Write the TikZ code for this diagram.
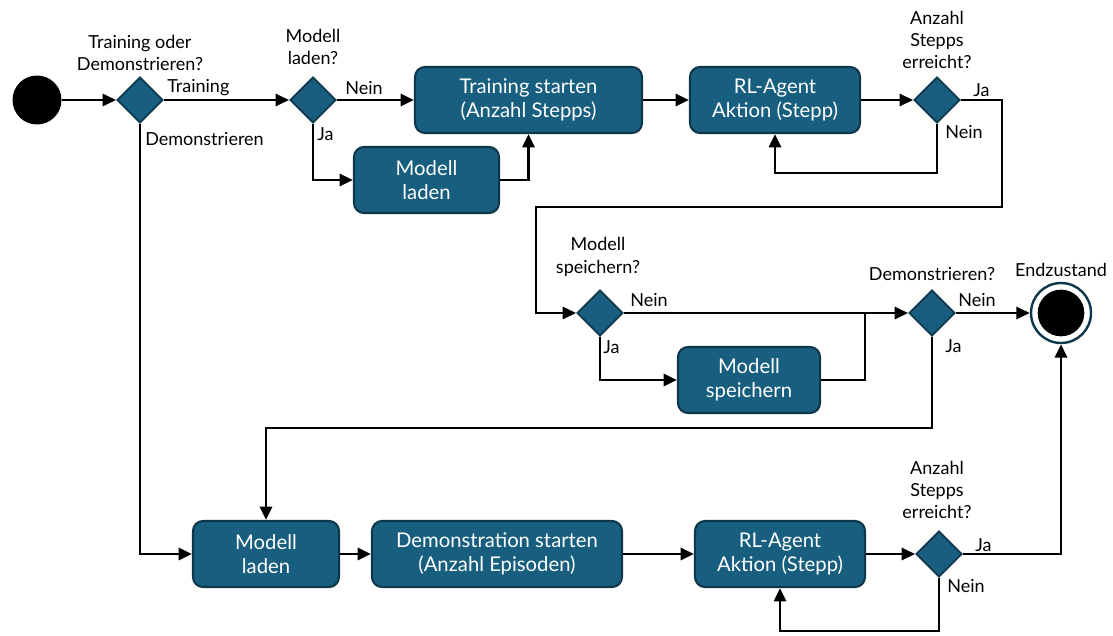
\documentclass[tikz,border=0pt]{standalone}
\usepackage{fontspec}
\setmainfont{Lato}
\usetikzlibrary{shapes.geometric,arrows.meta}
\definecolor{boxfill}{RGB}{24,94,127}
\definecolor{boxline}{RGB}{14,55,76}
\begin{document}
\begin{tikzpicture}[x=0.75pt,y=-0.75pt,
  font=\fontsize{13.5}{16.8}\selectfont,
  stepbox/.style={draw=boxline,fill=boxfill,line width=1.6pt,rounded corners=7.5pt,
    text=white,align=center,minimum height=49.5pt,inner sep=2pt,
    font=\fontsize{15.2}{18}\selectfont},
  decide/.style={diamond,aspect=1,draw=boxline,fill=boxfill,line width=1.4pt,
    minimum width=34.5pt,minimum height=34.5pt,inner sep=0pt},
  flow/.style={line width=2.2pt,-{Triangle[length=10pt,width=9pt]}},
  plain/.style={line width=2.2pt},
  lbl/.style={anchor=west,inner sep=0pt},
  note/.style={align=center,inner sep=0pt}]
\useasboundingbox (0,0) rectangle (1113,635);

% start and end states
\node[circle,fill=black,minimum size=36.75pt,inner sep=0pt] (start) at (37,100) {};
\node[circle,draw=boxline,line width=1.8pt,fill=white,minimum size=45pt,inner sep=0pt] (endc) at (1061,313) {};
\node[circle,fill=black,minimum size=35pt,inner sep=0pt] at (endc) {};

% decisions
\node[decide] (d1) at (140,100) {};
\node[decide] (d2) at (313,100) {};
\node[decide] (d3) at (937,100) {};
\node[decide] (d4) at (600,313) {};
\node[decide] (d5) at (932,313) {};
\node[decide] (d6) at (939,554) {};

% actions
\node[stepbox,minimum width=170.25pt] (tstart) at (528.5,100) {Training starten\\(Anzahl Stepps)};
\node[stepbox,minimum width=108.75pt] (mload1) at (426.5,180) {Modell\\laden};
\node[stepbox,minimum width=127.5pt] (rl1) at (775,100) {RL-Agent\\Aktion (Stepp)};
\node[stepbox,minimum width=106.5pt] (msave) at (749,380) {Modell\\speichern};
\node[stepbox,minimum width=109.5pt] (mload2) at (266,554) {Modell\\laden};
\node[stepbox,minimum width=187.5pt] (dstart) at (497,554) {Demonstration starten\\(Anzahl Episoden)};
\node[stepbox,minimum width=127.5pt] (rl2) at (780,554) {RL-Agent\\Aktion (Stepp)};

% decision questions
\node[note] (q1) at (140,53) {Training oder\\Demonstrieren?};
\node[note] (q2) at (313,47) {Modell\\laden?};
\node[note] (q3) at (937,40) {Anzahl\\Stepps\\erreicht?};
\node[note] (q4) at (598,257) {Modell\\speichern?};
\node[note] (q5) at (932,274) {Demonstrieren?};
\node[note] (q6) at (1061,270) {Endzustand};
\node[note] (q7) at (937,490) {Anzahl\\Stepps\\erreicht?};

% branch labels
\node[lbl] (l1) at (167,88) {Training};
\node[lbl] (l2) at (145,139) {Demonstrieren};
\node[lbl] (l3) at (345,88) {Nein};
\node[lbl] (l4) at (317,134) {Ja};
\node[lbl] (l5) at (973,90) {Ja};
\node[lbl] (l6) at (945,132) {Nein};
\node[lbl] (l7) at (630,300) {Nein};
\node[lbl] (l8) at (603,347) {Ja};
\node[lbl] (l9) at (958,300) {Nein};
\node[lbl] (l10) at (945,346) {Ja};
\node[lbl] (l11) at (975,545) {Ja};
\node[lbl] (l12) at (947,586) {Nein};

% bend points
\coordinate (j1) at (1002,100);
\coordinate (j2) at (1002,207);
\coordinate (j3) at (536,207);
\coordinate (j4) at (536,313);
\coordinate (j5) at (865,313);
\coordinate (j6) at (932,428);
\coordinate (j7) at (266,428);
\coordinate (k1) at (937,173);
\coordinate (k2) at (939,631);

% training branch
\draw[flow] (start) -- (d1.west);
\draw[flow] (d1.east) -- (d2.west);
\draw[flow] (d2.east) -- (tstart.west);
\draw[flow] (d2.south) |- (mload1.west);
\draw[flow] (mload1.east) -| (tstart.south);
\draw[flow] (tstart.east) -- (rl1.west);
\draw[flow] (rl1.east) -- (d3.west);
\draw[flow] (d3.south) -- (k1) -| (rl1.south);
\draw[flow] (d3.east) -- (j1) -- (j2) -- (j3) -- (j4) -- (d4.west);
\draw[flow] (d4.east) -- (d5.west);
\draw[flow] (d4.south) |- (msave.west);
\draw[plain] (msave.east) -| (j5);
\draw[flow] (d5.east) -- (endc.west);
\draw[flow] (d5.south) -- (j6) -- (j7) -- (mload2.north);

% demonstration branch
\draw[flow] (d1.south) |- (mload2.west);
\draw[flow] (mload2.east) -- (dstart.west);
\draw[flow] (dstart.east) -- (rl2.west);
\draw[flow] (rl2.east) -- (d6.west);
\draw[flow] (d6.east) -| (endc.south);
\draw[flow] (d6.south) -- (k2) -| (rl2.south);
\end{tikzpicture}
\end{document}
